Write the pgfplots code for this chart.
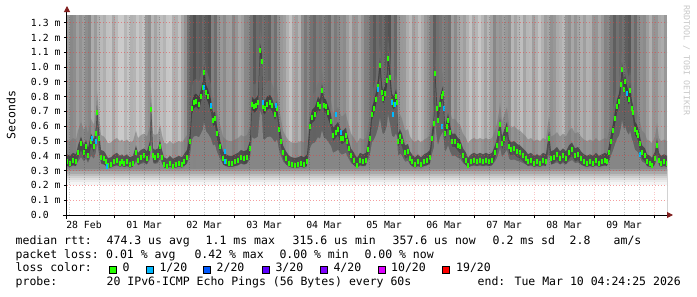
\documentclass[border=0pt]{standalone}
\usepackage{pgfplots}
\pgfplotsset{compat=1.18}
\usepackage{pgfplotstable}
\usepackage{fontspec}
\setmainfont{DejaVu Sans Mono}
\usetikzlibrary{arrows.meta}
\definecolor{gridred}{RGB}{235,60,60}
\definecolor{arrowred}{RGB}{128,30,30}
\definecolor{loss0}{HTML}{26FF00}
\definecolor{loss1}{HTML}{00B8FF}
\definecolor{loss2}{HTML}{0059FF}
\definecolor{loss3}{HTML}{5E00FF}
\definecolor{loss4}{HTML}{7E00FF}
\definecolor{loss10}{HTML}{DD00FF}
\definecolor{loss19}{HTML}{FF0000}
\definecolor{smA}{gray}{0.45}
\definecolor{smB}{gray}{0.15}
\definecolor{smC}{gray}{0.42}
\definecolor{smD}{gray}{0.56}
\newcommand{\legfont}{\fontsize{11.5bp}{13bp}\selectfont}
\newcommand{\axfont}{\fontsize{9.8bp}{11bp}\selectfont}

% median round-trip time (ms) against hours since 28 Feb 00:00
\pgfplotstableread{
h m
5.2 0.36
6.4 0.35
7.6 0.37
8.8 0.36
9.6 0.42
10.8 0.48
12.0 0.42
12.8 0.46
13.6 0.40
14.8 0.50
16.0 0.46
16.8 0.55
17.2 0.69
18.0 0.52
18.8 0.39
20.0 0.38
20.8 0.36
21.6 0.335
22.8 0.34
24.0 0.36
25.2 0.37
26.4 0.35
27.2 0.36
28.0 0.345
29.2 0.36
30.4 0.34
31.6 0.35
32.8 0.42
33.6 0.37
34.8 0.39
36.0 0.40
37.2 0.38
38.4 0.45
38.8 0.71
39.6 0.40
40.4 0.39
41.6 0.40
42.4 0.46
43.2 0.39
44.0 0.34
45.2 0.33
46.4 0.35
47.6 0.33
48.8 0.34
50.0 0.35
51.2 0.34
52.0 0.36
53.2 0.39
54.4 0.50
55.2 0.72
56.0 0.76
56.8 0.77
58.0 0.75
58.8 0.80
59.6 0.86
60.0 0.965
60.8 0.83
61.6 0.80
62.8 0.73
63.6 0.64
64.4 0.65
65.2 0.55
66.4 0.46
67.6 0.38
68.8 0.36
70.0 0.35
71.2 0.35
72.4 0.36
73.6 0.37
74.8 0.39
76.0 0.38
77.2 0.39
78.4 0.45
79.2 0.75
80.0 0.73
80.8 0.74
81.6 0.76
82.4 1.11
83.2 1.04
83.6 0.73
84.4 0.72
85.2 0.75
86.4 0.76
87.2 0.74
88.4 0.68
89.2 0.72
90.0 0.58
90.8 0.50
91.6 0.42
92.8 0.38
94.0 0.35
95.2 0.34
96.4 0.335
97.6 0.34
98.8 0.35
100.0 0.34
101.2 0.36
102.4 0.60
103.2 0.66
104.4 0.68
105.6 0.75
106.4 0.73
107.2 0.84
108.0 0.74
108.8 0.73
109.6 0.69
110.8 0.63
111.6 0.54
112.8 0.56
113.6 0.58
114.8 0.52
115.6 0.52
116.8 0.54
117.2 0.50
118.0 0.45
118.8 0.40
120.0 0.37
121.2 0.335
122.4 0.37
123.6 0.36
124.8 0.37
125.6 0.44
126.4 0.52
127.2 0.68
128.0 0.72
128.8 0.78
129.6 0.87
130.4 1.01
131.2 0.83
131.6 0.79
132.4 0.82
133.2 0.91
133.6 1.06
134.4 0.93
135.2 0.77
136.0 0.75
136.8 0.80
137.2 0.76
137.6 0.50
138.4 0.53
139.2 0.50
140.4 0.42
141.6 0.43
142.4 0.38
143.2 0.36
144.4 0.34
145.6 0.36
146.8 0.34
148.0 0.36
149.2 0.37
150.4 0.39
151.2 0.52
152.0 0.62
152.4 0.955
153.2 0.72
153.6 0.64
154.4 0.75
155.2 0.80
155.6 0.82
156.4 0.55
157.2 0.60
157.6 0.64
158.4 0.56
159.2 0.50
160.4 0.50
161.6 0.47
162.4 0.46
163.6 0.40
164.8 0.37
165.6 0.335
166.8 0.36
168.0 0.37
169.2 0.36
170.4 0.37
171.6 0.36
172.8 0.37
174.0 0.36
175.2 0.37
176.4 0.42
177.2 0.47
178.0 0.55
178.4 0.61
179.2 0.48
180.0 0.52
181.2 0.58
182.0 0.46
182.8 0.44
184.0 0.45
185.2 0.43
186.4 0.42
187.6 0.40
188.8 0.38
189.6 0.36
190.8 0.37
192.0 0.35
193.2 0.36
194.4 0.35
195.6 0.37
196.8 0.36
198.0 0.52
198.8 0.38
200.0 0.39
201.2 0.41
202.4 0.38
203.6 0.40
204.8 0.38
206.0 0.42
207.2 0.44
208.4 0.40
209.6 0.41
210.8 0.38
212.0 0.36
213.2 0.35
214.4 0.36
215.6 0.35
216.8 0.37
218.0 0.35
219.2 0.36
220.4 0.37
221.2 0.36
222.0 0.42
222.8 0.50
223.6 0.57
224.4 0.65
225.2 0.73
226.0 0.77
226.8 0.88
227.2 0.98
228.0 0.85
228.4 0.90
229.2 0.82
230.0 0.78
230.4 0.84
231.2 0.72
231.6 0.69
232.4 0.58
233.2 0.56
233.6 0.54
234.4 0.48
235.2 0.42
236.4 0.40
237.2 0.36
238.4 0.35
239.2 0.335
240.4 0.38
241.2 0.47
242.0 0.37
242.8 0.35
244.0 0.36
245.2 0.35
}\median

% median points with 1/20 packet loss
\pgfplotstableread{
h m
15.2 0.52
16.8 0.50
21.2 0.33
60.0 0.86
62.8 0.74
68.4 0.43
68.4 0.36
83.6 0.76
88.8 0.74
112.8 0.68
114.8 0.56
129.6 0.85
135.2 0.76
135.6 0.68
136.4 0.75
155.2 0.60
156.0 0.72
229.2 0.82
234.4 0.41
}\lossone

% smoke tone of the upper region (gray level, 0 = black, 1 = white)
\pgfplotstableread{
h t
5.8 0.60
7.0 0.53
8.2 0.55
9.4 0.62
10.6 0.57
11.8 0.61
13.0 0.55
14.2 0.52
15.4 0.67
16.6 0.60
17.8 0.68
19.0 0.72
20.2 0.68
21.4 0.75
22.6 0.76
23.8 0.66
25.0 0.72
26.2 0.79
27.4 0.79
28.6 0.71
29.8 0.76
31.0 0.69
32.2 0.70
33.4 0.77
34.6 0.72
35.8 0.76
37.0 0.59
38.2 0.56
39.4 0.71
40.6 0.64
41.8 0.70
43.0 0.74
44.2 0.70
45.4 0.77
46.6 0.78
47.8 0.68
49.0 0.68
50.2 0.75
51.4 0.65
52.6 0.57
53.8 0.44
55.0 0.37
56.2 0.31
57.4 0.38
58.6 0.36
59.8 0.40
61.0 0.35
62.2 0.32
63.4 0.50
64.6 0.43
65.8 0.55
67.0 0.59
68.2 0.54
69.4 0.61
70.6 0.62
71.8 0.52
73.0 0.58
74.2 0.65
75.4 0.61
76.6 0.53
77.8 0.52
79.0 0.45
80.2 0.35
81.4 0.42
82.6 0.40
83.8 0.44
85.0 0.41
86.2 0.38
87.4 0.51
88.6 0.44
89.8 0.55
91.0 0.59
92.2 0.62
93.4 0.69
94.6 0.76
95.8 0.66
97.0 0.62
98.2 0.69
99.4 0.55
100.6 0.47
101.8 0.52
103.0 0.45
104.2 0.41
105.4 0.48
106.6 0.46
107.8 0.50
109.0 0.45
110.2 0.42
111.4 0.55
112.6 0.48
113.8 0.52
115.0 0.56
116.2 0.54
117.4 0.61
118.6 0.68
119.8 0.58
121.0 0.58
122.2 0.65
123.4 0.58
124.6 0.50
125.8 0.49
127.0 0.42
128.2 0.35
129.4 0.42
130.6 0.38
131.8 0.42
133.0 0.35
134.2 0.32
135.4 0.47
136.6 0.40
137.8 0.55
139.0 0.59
140.2 0.60
141.4 0.67
142.6 0.72
143.8 0.62
145.0 0.66
146.2 0.73
147.4 0.67
148.6 0.59
149.8 0.56
151.0 0.49
152.2 0.37
153.4 0.44
154.6 0.46
155.8 0.50
157.0 0.47
158.2 0.44
159.4 0.61
160.6 0.54
161.8 0.62
163.0 0.66
164.2 0.62
165.4 0.69
166.6 0.76
167.8 0.66
169.0 0.70
170.2 0.77
171.4 0.71
172.6 0.63
173.8 0.70
175.0 0.63
176.2 0.53
177.4 0.60
178.6 0.58
179.8 0.62
181.0 0.59
182.2 0.56
183.4 0.71
184.6 0.64
185.8 0.70
187.0 0.74
188.2 0.64
189.4 0.71
190.6 0.72
191.8 0.62
193.0 0.68
194.2 0.75
195.4 0.69
196.6 0.61
197.8 0.64
199.0 0.57
200.2 0.59
201.4 0.66
202.6 0.68
203.8 0.72
205.0 0.59
206.2 0.56
207.4 0.65
208.6 0.58
209.8 0.64
211.0 0.68
212.2 0.62
213.4 0.69
214.6 0.68
215.8 0.58
217.0 0.58
218.2 0.65
219.4 0.59
220.6 0.51
221.8 0.52
223.0 0.45
224.2 0.37
225.4 0.44
226.6 0.40
227.8 0.44
229.0 0.37
230.2 0.34
231.4 0.49
232.6 0.42
233.8 0.52
235.0 0.56
236.2 0.54
237.4 0.61
238.6 0.68
239.8 0.58
241.0 0.58
242.2 0.65
243.4 0.67
244.6 0.59
}\tone

\begin{document}
\begin{tikzpicture}
\path[use as bounding box] (-67bp,-82bp) rectangle (630bp,215bp);
\begin{axis}[
  at={(0bp,0bp)}, anchor=south west,
  scale only axis, width=600bp, height=200bp,
  xmin=5.2, xmax=245.2, ymin=0, ymax=1.3514,
  axis x line*=bottom, axis y line*=left,
  axis on top,
  clip marker paths=true,
  axis line style={line width=1bp, black},
  x axis line style={shorten <=-4bp, shorten >=-6bp, -{Triangle[length=6bp,width=6bp,color=arrowred]}},
  y axis line style={shorten <=-4bp, shorten >=-9bp, -{Triangle[length=6bp,width=6bp,color=arrowred]}},
  tick align=outside,
  major tick length=3bp, minor tick length=0bp,
  tick style={black, line width=0.8bp},
  xtick={24,48,72,96,120,144,168,192,216,240},
  xticklabels={28 Feb,01 Mar,02 Mar,03 Mar,04 Mar,05 Mar,06 Mar,07 Mar,08 Mar,09 Mar},
  xticklabel style={font=\axfont, xshift=-30bp},
  minor xtick={6,12,18,30,36,42,54,60,66,78,84,90,102,108,114,126,132,138,150,156,162,174,180,186,198,204,210,222,228,234},
  ytick={0,0.1,0.2,0.3,0.4,0.5,0.6,0.7,0.8,0.9,1.0,1.1,1.2,1.3},
  yticklabels={0.0\hphantom{00},0.1 m,0.2 m,0.3 m,0.4 m,0.5 m,0.6 m,0.7 m,0.8 m,0.9 m,1.0 m,1.1 m,1.2 m,1.3 m},
  yticklabel style={font=\axfont},
  xmajorgrids=true, ymajorgrids=true, xminorgrids=true,
  major x grid style={draw=gridred, draw opacity=0.28, line width=0.8bp, dash pattern=on 1bp off 1.5bp},
  major y grid style={draw=gridred, draw opacity=0.5, line width=1bp, dash pattern=on 1.5bp off 1.5bp},
  minor grid style={draw=black, draw opacity=0.2, line width=0.8bp, dash pattern=on 1bp off 1.5bp},
  ylabel={Seconds},
  ylabel style={font=\legfont, at={(axis description cs:-0.0933,0.5)}, anchor=center},
  colormap={smoke}{gray(0cm)=(0); gray(1cm)=(1)},
  point meta min=0, point meta max=1,
]
% upper smoke tone
\addplot[scatter, only marks, mark=|, mark size=84.8bp,
  point meta=explicit,
  scatter/use mapped color={draw=mapped color, fill=mapped color},
  mark options={line width=3.3bp}]
  table[x=h, y expr=0.7782, meta=t] {\tone};
% smoke around the median
\addplot[draw=none, fill=smA, fill opacity=0.5] table[x=h, y expr=\thisrow{m}+0.15] {\median} \closedcycle;
\addplot[draw=none, fill=smB, fill opacity=0.6] table[x=h, y expr=\thisrow{m}+0.05] {\median} \closedcycle;
\addplot[draw=none, fill=smC, fill opacity=0.8] table[x=h, y expr=\thisrow{m}-0.04] {\median} \closedcycle;
\addplot[draw=none, fill=smD, fill opacity=0.8] table[x=h, y expr=0.5*\thisrow{m}+0.15] {\median} \closedcycle;
% lower fade of the fastest pings
\addplot[draw=none, fill={rgb,255:red,150;green,150;blue,150}] coordinates {(5.2,0.31) (245.2,0.31)} \closedcycle;
\addplot[draw=none, fill={rgb,255:red,170;green,170;blue,170}] coordinates {(5.2,0.295) (245.2,0.295)} \closedcycle;
\addplot[draw=none, fill={rgb,255:red,190;green,190;blue,190}] coordinates {(5.2,0.28) (245.2,0.28)} \closedcycle;
\addplot[draw=none, fill={rgb,255:red,207;green,207;blue,207}] coordinates {(5.2,0.265) (245.2,0.265)} \closedcycle;
\addplot[draw=none, fill={rgb,255:red,222;green,222;blue,222}] coordinates {(5.2,0.25) (245.2,0.25)} \closedcycle;
\addplot[draw=none, fill={rgb,255:red,234;green,234;blue,234}] coordinates {(5.2,0.235) (245.2,0.235)} \closedcycle;
\addplot[draw=none, fill={rgb,255:red,244;green,244;blue,244}] coordinates {(5.2,0.22) (245.2,0.22)} \closedcycle;
\addplot[draw=none, fill=white] coordinates {(5.2,0.205) (245.2,0.205)} \closedcycle;
% median, coloured by loss
\addplot[only marks, mark=|, mark size=2.5bp, mark options={draw=loss0, line width=2bp}] table[x=h, y=m] {\median};
\addplot[only marks, mark=|, mark size=2.5bp, mark options={draw=loss1, line width=2bp}] table[x=h, y=m] {\lossone};
\end{axis}
% watermark
\node[rotate=-90, anchor=west, inner sep=0pt, font=\fontsize{8.3bp}{9bp}\selectfont, text=black!22] at (619.5bp,210bp) {RRDTOOL / TOBI OETIKER};
% legend
\begin{scope}[every node/.style={anchor=base west, inner sep=0pt, font=\legfont}]
\node at (-51.5bp,-29.5bp) {median rtt:};
\node at (39.5bp,-29.5bp) {474.3 us avg};
\node at (138.5bp,-29.5bp) {1.1 ms max};
\node at (225.5bp,-29.5bp) {315.6 us min};
\node at (325.5bp,-29.5bp) {357.6 us now};
\node at (425.5bp,-29.5bp) {0.2 ms sd};
\node at (502.5bp,-29.5bp) {2.8};
\node at (546.5bp,-29.5bp) {am/s};
\node at (-51.5bp,-43.2bp) {packet loss:};
\node at (39bp,-43.2bp) {0.01 \% avg};
\node at (127.3bp,-43.2bp) {0.42 \% max};
\node at (212.3bp,-43.2bp) {0.00 \% min};
\node at (297.3bp,-43.2bp) {0.00 \% now};
\node at (-51.5bp,-56.9bp) {loss color:};
\node at (55.5bp,-56.9bp) {0};
\node at (92.3bp,-56.9bp) {1/20};
\node at (149.5bp,-56.9bp) {2/20};
\node at (208.3bp,-56.9bp) {3/20};
\node at (266.3bp,-56.9bp) {4/20};
\node at (324bp,-56.9bp) {10/20};
\node at (389bp,-56.9bp) {19/20};
\node at (-51.5bp,-70.6bp) {probe:};
\node at (39.5bp,-70.6bp) {20 IPv6-ICMP Echo Pings (56 Bytes) every 60s};
\node at (410.5bp,-70.6bp) {end: Tue Mar 10 04:24:25 2026};
\end{scope}
\begin{scope}[line width=0.8bp, draw=black]
\filldraw[fill=loss0] (42bp,-58bp) rectangle ++(7bp,7bp);
\filldraw[fill=loss1] (79bp,-58bp) rectangle ++(7bp,7bp);
\filldraw[fill=loss2] (136bp,-58bp) rectangle ++(7bp,7bp);
\filldraw[fill=loss3] (195bp,-58bp) rectangle ++(7bp,7bp);
\filldraw[fill=loss4] (253bp,-58bp) rectangle ++(7bp,7bp);
\filldraw[fill=loss10] (311bp,-58bp) rectangle ++(7bp,7bp);
\filldraw[fill=loss19] (375bp,-58bp) rectangle ++(7bp,7bp);
\end{scope}
\end{tikzpicture}
\end{document}
